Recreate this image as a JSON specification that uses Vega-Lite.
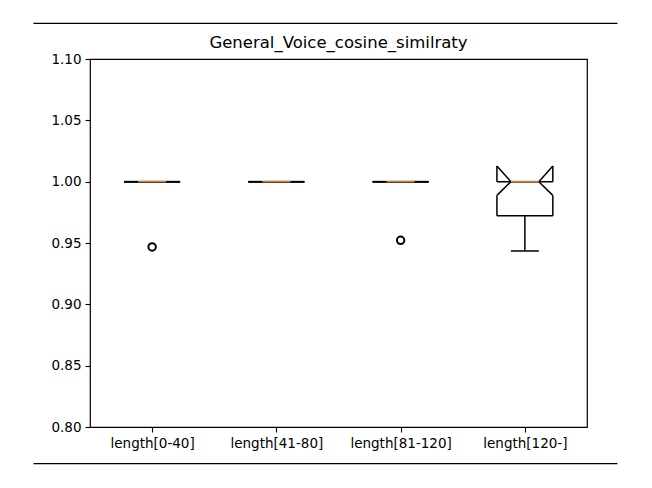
{
  "$schema": "https://vega.github.io/schema/vega-lite/v6.json",
  "autosize": "none",
  "width": 497,
  "height": 368,
  "padding": {"left": 90, "top": 59, "right": 65, "bottom": 61},
  "background": "white",
  "config": {
    "font": "DejaVu Sans",
    "view": {"stroke": "black", "strokeWidth": 1.2},
    "axis": {"grid": false, "domain": false, "tickColor": "black", "tickWidth": 1.1, "tickSize": 5, "labelColor": "black", "labelFont": "DejaVu Sans", "labelFontSize": 13.5, "labelPadding": 4, "titleFontSize": 0}
  },
  "title": {"text": "General_Voice_cosine_similraty", "font": "DejaVu Sans", "fontSize": 16.5, "fontWeight": "normal", "color": "black", "offset": -29, "anchor": "middle"},
  "datasets": {
    "stats": [
      {"label": "length[0-40]", "pos": 1, "q1": 1.0, "q3": 1.0, "med": 1.0, "nlo": 1.0, "nhi": 1.0, "wlo": 1.0, "whi": 1.0},
      {"label": "length[41-80]", "pos": 2, "q1": 1.0, "q3": 1.0, "med": 1.0, "nlo": 1.0, "nhi": 1.0, "wlo": 1.0, "whi": 1.0},
      {"label": "length[81-120]", "pos": 3, "q1": 1.0, "q3": 1.0, "med": 1.0, "nlo": 1.0, "nhi": 1.0, "wlo": 1.0, "whi": 1.0},
      {"label": "length[120-]", "pos": 4, "q1": 0.9722, "q3": 1.0, "med": 1.0, "nlo": 0.9888, "nhi": 1.0127, "wlo": 0.9435, "whi": 1.0}
    ],
    "outliers": [
      {"label": "length[0-40]", "pos": 1, "value": 0.9468},
      {"label": "length[81-120]", "pos": 3, "value": 0.9522}
    ],
    "frame": [
      {"y": 1.1291, "xa": 0.045, "xb": 4.745},
      {"y": 0.7702, "xa": 0.045, "xb": 4.745}
    ]
  },
  "layer": [
    {
      "data": {"name": "frame"},
      "mark": {"type": "rule", "color": "black", "strokeWidth": 1.3, "clip": false},
      "encoding": {
        "x": {"field": "xa", "type": "quantitative", "scale": {"domain": [0.5, 4.5], "nice": false, "zero": false}, "axis": {"values": [1, 2, 3, 4], "labelExpr": "datum.value == 1 ? 'length[0-40]' : datum.value == 2 ? 'length[41-80]' : datum.value == 3 ? 'length[81-120]' : 'length[120-]'", "title": null}},
        "x2": {"field": "xb"},
        "y": {"field": "y", "type": "quantitative", "scale": {"domain": [0.8, 1.1], "nice": false, "zero": false}, "axis": {"values": [0.8, 0.85, 0.9, 0.95, 1.0, 1.05, 1.1], "format": ".2f", "title": null}}
      }
    },
    {
      "data": {"name": "stats"},
      "transform": [
        {"calculate": "datum.pos - 0.225", "as": "L"},
        {"calculate": "datum.pos + 0.225", "as": "R"},
        {"calculate": "datum.pos - 0.1125", "as": "Lq"},
        {"calculate": "datum.pos + 0.1125", "as": "Rq"}
      ],
      "layer": [
        {"mark": {"type": "rule", "color": "black", "strokeWidth": 1.5}, "encoding": {"x": {"field": "L", "type": "quantitative"}, "x2": {"field": "R"}, "y": {"field": "q1", "type": "quantitative"}, "y2": {"field": "q1"}}},
        {"mark": {"type": "rule", "color": "black", "strokeWidth": 1.5}, "encoding": {"x": {"field": "R", "type": "quantitative"}, "x2": {"field": "R"}, "y": {"field": "q1", "type": "quantitative"}, "y2": {"field": "nlo"}}},
        {"mark": {"type": "rule", "color": "black", "strokeWidth": 1.5}, "encoding": {"x": {"field": "R", "type": "quantitative"}, "x2": {"field": "Rq"}, "y": {"field": "nlo", "type": "quantitative"}, "y2": {"field": "med"}}},
        {"mark": {"type": "rule", "color": "black", "strokeWidth": 1.5}, "encoding": {"x": {"field": "Rq", "type": "quantitative"}, "x2": {"field": "R"}, "y": {"field": "med", "type": "quantitative"}, "y2": {"field": "nhi"}}},
        {"mark": {"type": "rule", "color": "black", "strokeWidth": 1.5}, "encoding": {"x": {"field": "R", "type": "quantitative"}, "x2": {"field": "R"}, "y": {"field": "nhi", "type": "quantitative"}, "y2": {"field": "q3"}}},
        {"mark": {"type": "rule", "color": "black", "strokeWidth": 1.5}, "encoding": {"x": {"field": "L", "type": "quantitative"}, "x2": {"field": "R"}, "y": {"field": "q3", "type": "quantitative"}, "y2": {"field": "q3"}}},
        {"mark": {"type": "rule", "color": "black", "strokeWidth": 1.5}, "encoding": {"x": {"field": "L", "type": "quantitative"}, "x2": {"field": "L"}, "y": {"field": "q3", "type": "quantitative"}, "y2": {"field": "nhi"}}},
        {"mark": {"type": "rule", "color": "black", "strokeWidth": 1.5}, "encoding": {"x": {"field": "L", "type": "quantitative"}, "x2": {"field": "Lq"}, "y": {"field": "nhi", "type": "quantitative"}, "y2": {"field": "med"}}},
        {"mark": {"type": "rule", "color": "black", "strokeWidth": 1.5}, "encoding": {"x": {"field": "Lq", "type": "quantitative"}, "x2": {"field": "L"}, "y": {"field": "med", "type": "quantitative"}, "y2": {"field": "nlo"}}},
        {"mark": {"type": "rule", "color": "black", "strokeWidth": 1.5}, "encoding": {"x": {"field": "L", "type": "quantitative"}, "x2": {"field": "L"}, "y": {"field": "nlo", "type": "quantitative"}, "y2": {"field": "q1"}}},
        {"mark": {"type": "rule", "color": "black", "strokeWidth": 1.5}, "encoding": {"x": {"field": "pos", "type": "quantitative"}, "y": {"field": "q1", "type": "quantitative"}, "y2": {"field": "wlo"}}},
        {"mark": {"type": "rule", "color": "black", "strokeWidth": 1.5}, "encoding": {"x": {"field": "pos", "type": "quantitative"}, "y": {"field": "q3", "type": "quantitative"}, "y2": {"field": "whi"}}},
        {"mark": {"type": "rule", "color": "black", "strokeWidth": 1.5}, "encoding": {"x": {"field": "Lq", "type": "quantitative"}, "x2": {"field": "Rq"}, "y": {"field": "wlo", "type": "quantitative"}, "y2": {"field": "wlo"}}},
        {"mark": {"type": "rule", "color": "black", "strokeWidth": 1.5}, "encoding": {"x": {"field": "Lq", "type": "quantitative"}, "x2": {"field": "Rq"}, "y": {"field": "whi", "type": "quantitative"}, "y2": {"field": "whi"}}},
        {"mark": {"type": "rule", "color": "#c9823f", "strokeWidth": 1.5}, "encoding": {"x": {"field": "Lq", "type": "quantitative"}, "x2": {"field": "Rq"}, "y": {"field": "med", "type": "quantitative"}, "y2": {"field": "med"}}}
      ]
    },
    {
      "data": {"name": "outliers"},
      "mark": {"type": "point", "shape": "circle", "filled": false, "color": "black", "size": 55, "strokeWidth": 2, "opacity": 1},
      "encoding": {
        "x": {"field": "pos", "type": "quantitative"},
        "y": {"field": "value", "type": "quantitative"}
      }
    }
  ]
}
